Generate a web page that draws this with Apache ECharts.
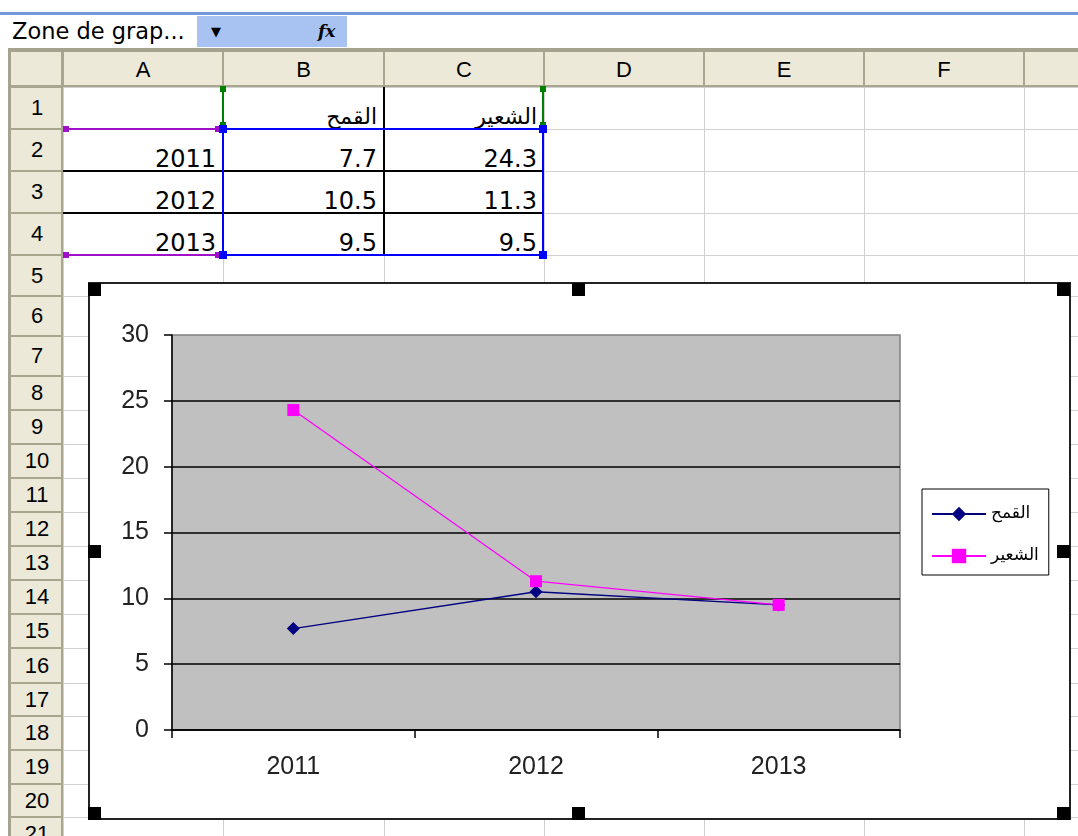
<!DOCTYPE html>
<html><head><meta charset="utf-8">
<script src="https://cdn.jsdelivr.net/npm/echarts@6/dist/echarts.min.js"></script>
<style>
body{margin:0;width:1078px;height:836px;overflow:hidden;background:#fff;position:relative;font-family:"DejaVu Sans",sans-serif;}
.a{position:absolute;box-sizing:border-box;}
</style></head><body>
<div id="sheet"></div>
<div id="chart" class="a" style="left:89px;top:283px;width:982px;height:537px;"></div>
<div id="over"></div>
<script>
// ---- data ----
const categories = ['2011', '2012', '2013'];
const seriesNames = ['القمح', 'الشعير'];
const wheat = [7.7, 10.5, 9.5];
const barley = [24.3, 11.3, 9.5];
const yMin = 0, yMax = 30, yStep = 5;
const colLetters = ['A', 'B', 'C', 'D', 'E', 'F', ''];
const nameBoxText = 'Zone de grap...';

// ---- sheet layout ----
const colEdges = [63, 223, 384, 544, 704, 864, 1024, 1200];
const rowEdges = [87, 129, 171, 213, 255, 296, 336, 376, 410, 444, 478, 512, 546, 580, 614, 648, 683, 716, 750, 784, 817, 851];
const sheet = document.getElementById('sheet');
function box(x, y, w, h, style, text) {
  const d = document.createElement('div');
  d.className = 'a';
  d.style.cssText = `left:${x}px;top:${y}px;width:${w}px;height:${h}px;` + (style || '');
  if (text !== undefined) d.textContent = text;
  sheet.appendChild(d);
  return d;
}
// top bar
box(0, 12, 1078, 3, 'background:#7896DC;');
box(12, 16, 185, 31, 'background:#fff;font-size:22.5px;line-height:31px;color:#000;white-space:nowrap;', nameBoxText);
box(197, 16, 150, 31, 'background:#A8C2F2;');
box(204, 16, 24, 31, 'font-size:13px;line-height:31px;text-align:center;color:#000;', '▼');
box(318, 16, 24, 31, 'font-size:17px;line-height:31px;font-style:italic;font-weight:bold;font-family:"DejaVu Serif",serif;color:#000;', 'fx');
// frame
box(8, 48, 1070, 4, 'background:#A5A28F;');
box(8, 48, 3, 788, 'background:#A5A28F;');
// header row / column
const hdrBg = 'background:#ECE9D8;';
box(11, 52, 1067, 35, hdrBg);
box(11, 87, 52, 749, hdrBg);
// light grid in cells
for (let i = 0; i < colEdges.length; i++) {
  box(colEdges[i], 87, 1, 749, 'background:#D0D0D0;');
}
for (let j = 0; j < rowEdges.length; j++) {
  box(63, rowEdges[j], 1015, 1, 'background:#D0D0D0;');
}
// header separators and labels
for (let i = 0; i < colEdges.length; i++) {
  box(colEdges[i] - 1, 52, 2, 35, 'background:#A9A690;');
  if (i < colEdges.length - 1) {
    box(colEdges[i], 52, colEdges[i + 1] - colEdges[i], 35, 'font-size:22px;line-height:35px;text-align:center;color:#000;font-family:"Liberation Sans",sans-serif;', colLetters[i]);
  }
}
box(11, 85, 1067, 2, 'background:#A9A690;');
box(61, 52, 2, 784, 'background:#A9A690;');
for (let j = 0; j < rowEdges.length; j++) {
  box(11, rowEdges[j] - 1, 52, 2, 'background:#A9A690;');
  if (j < rowEdges.length - 1) {
    box(11, rowEdges[j], 52, rowEdges[j + 1] - rowEdges[j], 'font-size:22px;text-align:center;color:#000;display:flex;align-items:center;justify-content:center;font-family:"Liberation Sans",sans-serif;', String(j + 1));
  }
}
// table black borders
box(63, 170, 481, 2, 'background:#000;');
box(63, 212, 481, 2, 'background:#000;');
box(383, 87, 2, 168, 'background:#000;');
// cell texts (bottom aligned, right aligned)
function cell(col, row, text, size) {
  const x0 = colEdges[col], x1 = colEdges[col + 1];
  const yb = rowEdges[row];
  box(x0, yb - 24, x1 - x0 - 7, 22, `font-size:${size || 24}px;line-height:24px;text-align:right;color:#000;white-space:nowrap;`, text);
}
cell(1, 1, seriesNames[0], 22);
cell(2, 1, seriesNames[1], 22);
for (let k = 0; k < categories.length; k++) {
  cell(0, k + 2, categories[k]);
  cell(1, k + 2, String(wheat[k]));
  cell(2, k + 2, String(barley[k]));
}
// selection highlights
const green = '#008000', purple = '#A010C8', blue = '#0000FF';
box(222, 87, 2, 42, 'background:' + green);
box(542, 87, 2, 42, 'background:' + green);
box(220, 86, 6, 6, 'background:' + green);
box(540, 86, 6, 6, 'background:' + green);
box(220, 122, 6, 6, 'background:' + green);
box(540, 122, 6, 6, 'background:' + green);
box(65, 128, 158, 2, 'background:' + purple);
box(65, 254, 158, 2, 'background:' + purple);
box(63, 126, 6, 6, 'background:' + purple);
box(63, 252, 6, 6, 'background:' + purple);
box(215, 126, 6, 6, 'background:' + purple);
box(215, 252, 6, 6, 'background:' + purple);
box(222, 128, 322, 128, 'border:2px solid ' + blue + ';');
[[223, 129], [543, 129], [223, 255], [543, 255]].forEach(p => box(p[0] - 4, p[1] - 4, 8, 8, 'background:' + blue));

// ---- chart ----
const chart = echarts.init(document.getElementById('chart'), null, { renderer: 'canvas' });
chart.setOption({
  animation: false,
  backgroundColor: '#fff',
  textStyle: { fontFamily: 'Liberation Sans', color: '#000' },
  grid: { left: 83, top: 52, width: 728, height: 395, show: true, backgroundColor: '#C0C0C0', borderColor: '#808080', borderWidth: 1.5 },
  legend: {
    orient: 'vertical', left: 833, top: 206,
    padding: [14, 10, 8, 9], itemGap: 20, itemWidth: 54, itemHeight: 18,
    borderColor: '#000', borderWidth: 1, backgroundColor: '#fff',
    textStyle: { fontSize: 17, fontFamily: 'DejaVu Sans', color: '#000', lineHeight: 22 },
    data: seriesNames
  },
  xAxis: {
    type: 'category', data: categories, boundaryGap: true,
    axisLine: { lineStyle: { color: '#000', width: 1.5 } },
    axisTick: { show: true, length: 8, lineStyle: { color: '#000', width: 1.5 } },
    axisLabel: { fontSize: 25, color: '#222', margin: 25 },
    splitLine: { show: false }
  },
  yAxis: {
    type: 'value', min: yMin, max: yMax, interval: yStep,
    axisLine: { show: true, lineStyle: { color: '#000', width: 1.5 } },
    axisTick: { show: true, length: 8, lineStyle: { color: '#000', width: 1.5 } },
    axisLabel: { fontSize: 25, color: '#222', margin: 23 },
    splitLine: { show: true, showMaxLine: false, lineStyle: { color: '#000', width: 1.5 } }
  },
  series: [
    { name: seriesNames[0], type: 'line', data: wheat, symbol: 'diamond', symbolSize: 13,
      itemStyle: { color: '#000080' }, lineStyle: { color: '#000080', width: 1.3 } },
    { name: seriesNames[1], type: 'line', data: barley, symbol: 'rect', symbolSize: 12,
      itemStyle: { color: '#FF00FF' }, lineStyle: { color: '#FF00FF', width: 1.3 } }
  ]
});

// chart frame and handles
const over = document.getElementById('over');
function ob(x, y, w, h, style) {
  const d = document.createElement('div');
  d.className = 'a';
  d.style.cssText = `left:${x}px;top:${y}px;width:${w}px;height:${h}px;` + style;
  over.appendChild(d);
}
ob(88, 282, 983, 538, 'border:2px solid #222;');
[[88, 283], [572, 283], [1057, 283], [88, 545], [1057, 545], [88, 807], [572, 807], [1057, 807]]
  .forEach(p => ob(p[0], p[1], 13, 13, 'background:#000;'));
</script>
</body></html>
